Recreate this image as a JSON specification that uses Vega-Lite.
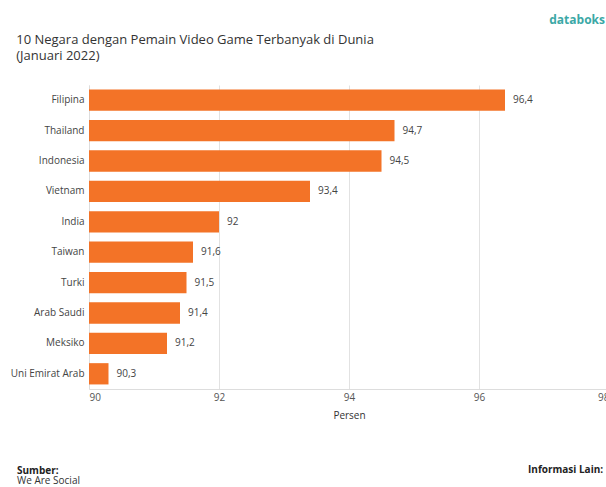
{
  "$schema": "https://vega.github.io/schema/vega-lite/v6.json",
  "padding": {"left": 10, "top": 14, "right": 0, "bottom": 0},
  "background": "white",
  "config": {
    "font": "Open Sans",
    "view": {"stroke": null},
    "locale": {"number": {"decimal": ",", "thousands": ".", "grouping": [3], "currency": ["Rp", ""]}}
  },
  "title": {"text": "databoks", "anchor": "end", "frame": "bounds", "fontSize": 12, "fontWeight": "bold", "color": "#3BA8A6", "offset": 7, "dx": -4},
  "spacing": 45,
  "vconcat": [
    {
      "title": {"text": ["10 Negara dengan Pemain Video Game Terbanyak di Dunia", "(Januari 2022)"], "anchor": "start", "frame": "bounds", "fontSize": 13, "fontWeight": "normal", "color": "#333333", "lineHeight": 16, "offset": 22, "dx": 6},
      "width": 520,
      "height": 304,
      "data": {"values": [
        {"negara": "Filipina", "persen": 96.4},
        {"negara": "Thailand", "persen": 94.7},
        {"negara": "Indonesia", "persen": 94.5},
        {"negara": "Vietnam", "persen": 93.4},
        {"negara": "India", "persen": 92.0},
        {"negara": "Taiwan", "persen": 91.6},
        {"negara": "Turki", "persen": 91.5},
        {"negara": "Arab Saudi", "persen": 91.4},
        {"negara": "Meksiko", "persen": 91.2},
        {"negara": "Uni Emirat Arab", "persen": 90.3}
      ]},
      "encoding": {
        "y": {"field": "negara", "type": "nominal", "sort": null,
          "scale": {"paddingInner": 0.3, "paddingOuter": 0.15},
          "axis": {"title": null, "ticks": false, "labelPadding": 5, "labelFontSize": 10, "labelColor": "#444444", "domain": true, "domainColor": "#dddddd", "minExtent": 78, "maxExtent": 78}}
      },
      "layer": [
        {
          "mark": {"type": "bar", "color": "#F37327"},
          "encoding": {
            "x": {"field": "persen", "type": "quantitative",
              "scale": {"domain": [90, 98], "nice": false, "zero": false},
              "axis": {"values": [90, 92, 94, 96, 98], "format": "d", "grid": true, "gridColor": "#e2e2e2", "ticks": false, "domainColor": "#dddddd", "labelFontSize": 10, "labelColor": "#555555", "labelPadding": 3, "title": "Persen", "titleFontSize": 10, "titleFontWeight": "normal", "titleColor": "#333333", "titlePadding": 8}},
            "x2": {"datum": 90}
          }
        },
        {
          "mark": {"type": "text", "align": "left", "baseline": "middle", "dx": 8, "fontSize": 10, "color": "#444444"},
          "encoding": {
            "x": {"field": "persen", "type": "quantitative"},
            "text": {"field": "persen", "type": "quantitative", "format": ".1~f"}
          }
        }
      ]
    },
    {
      "spacing": 17,
      "hconcat": [
        {
          "width": 422, "height": 1,
          "data": {"values": []},
          "mark": {"type": "text"},
          "encoding": {},
          "title": {"text": "Sumber:", "subtitle": "We Are Social", "anchor": "start", "frame": "group", "fontSize": 10, "fontWeight": "bold", "color": "#222222", "subtitleFontSize": 10, "subtitleColor": "#333333", "subtitlePadding": 0, "dx": -72, "offset": 0}
        },
        {
          "width": 60, "height": 1,
          "data": {"values": []},
          "mark": {"type": "text"},
          "encoding": {},
          "title": {"text": "Informasi Lain:", "anchor": "start", "frame": "group", "fontSize": 10, "fontWeight": "bold", "color": "#222222", "offset": 11}
        }
      ]
    }
  ]
}
